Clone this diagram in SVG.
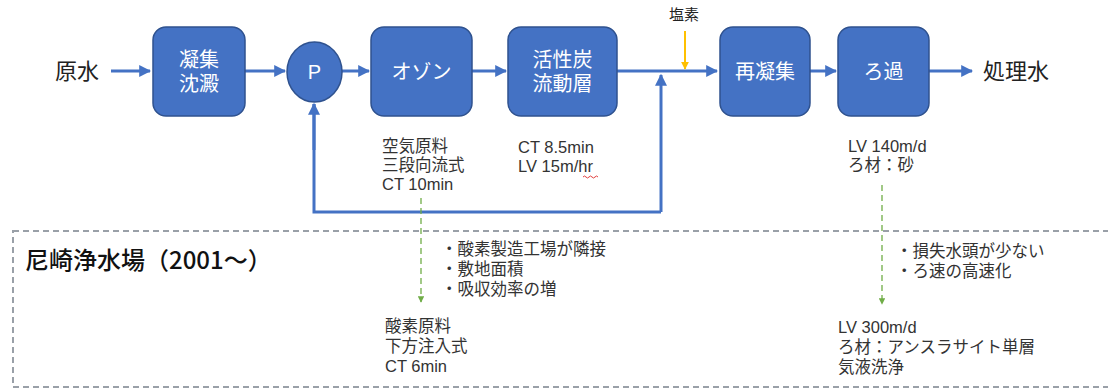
<svg xmlns="http://www.w3.org/2000/svg" width="1108" height="390" viewBox="0 0 1108 390">
<defs>
<marker id="ah" viewBox="0 0 10 10" refX="9" refY="5" markerWidth="4" markerHeight="4" orient="auto" markerUnits="strokeWidth"><path d="M0,0 L10,5 L0,10 z" fill="#4472C4"/></marker>
<marker id="ahy" viewBox="0 0 10 10" refX="9" refY="5" markerWidth="4" markerHeight="4" orient="auto" markerUnits="strokeWidth"><path d="M0,0 L10,5 L0,10 z" fill="#FFC000"/></marker>
<marker id="ahg" viewBox="0 0 10 10" refX="9" refY="5" markerWidth="5" markerHeight="5" orient="auto" markerUnits="strokeWidth"><path d="M0,0 L10,5 L0,10 z" fill="#70AD47"/></marker>
</defs>
<style>
.box{fill:#4472C4;stroke:#2F528F;stroke-width:1.5}
.bt{fill:#fff;font-family:"Liberation Sans","Noto Sans CJK JP",sans-serif;font-size:20px;text-anchor:middle}
.lbl{fill:#222;font-family:"Noto Sans CJK JP","Liberation Sans",sans-serif;font-size:22px}
.t{fill:#333;font-family:"Liberation Sans","Noto Sans CJK JP",sans-serif;font-size:16.5px}
.ln{fill:none;stroke:#4472C4;stroke-width:3}
.gd{fill:none;stroke:#70AD47;stroke-width:1.3;stroke-dasharray:6 4}
</style>
<rect x="13" y="231" width="1110" height="156" fill="none" stroke="#9AA0A8" stroke-width="2" stroke-dasharray="6 4"/>
<text x="25" y="269" style="fill:#111;font-family:'Noto Sans CJK JP','Liberation Sans',sans-serif;font-size:24px;font-weight:500">尼崎浄水場（2001～）</text>
<g id="connectors">
<line class="ln" x1="111" y1="71" x2="150" y2="71" marker-end="url(#ah)"/>
<line class="ln" x1="245" y1="71" x2="285" y2="71" marker-end="url(#ah)"/>
<line class="ln" x1="342" y1="71" x2="369" y2="71" marker-end="url(#ah)"/>
<line class="ln" x1="472" y1="71" x2="506" y2="71" marker-end="url(#ah)"/>
<line class="ln" x1="617" y1="71" x2="717" y2="71" marker-end="url(#ah)"/>
<line class="ln" x1="661" y1="212" x2="661" y2="75" marker-end="url(#ah)"/>
<polyline class="ln" points="661,212 314,212 314,104"/>
<line class="ln" x1="314" y1="150" x2="314" y2="104" marker-end="url(#ah)"/>
<line x1="685" y1="31" x2="685" y2="69" stroke="#FFC000" stroke-width="2" marker-end="url(#ahy)"/>
<line class="ln" x1="810" y1="71" x2="836" y2="71" marker-end="url(#ah)"/>
<line class="ln" x1="929" y1="71" x2="972" y2="71" marker-end="url(#ah)"/>
<line class="gd" x1="421" y1="198" x2="421" y2="302" marker-end="url(#ahg)"/>
<line class="gd" x1="882" y1="185" x2="882" y2="304" marker-end="url(#ahg)"/>
</g>
<g id="n-genshui"><text class="lbl" x="55" y="79">原水</text></g>
<g id="n-gyoshu"><rect class="box" x="153" y="27" width="92" height="89" rx="13"/><text class="bt" x="199" y="67">凝集</text><text class="bt" x="199" y="91">沈澱</text></g>
<g id="n-p"><ellipse class="box" cx="314.5" cy="72" rx="27.5" ry="30"/><text class="bt" x="314.5" y="79">P</text></g>
<g id="n-ozone"><rect class="box" x="371" y="27" width="101" height="89" rx="13"/><text class="bt" x="421.5" y="79">オゾン</text></g>
<g id="n-kasseitan"><rect class="box" x="508" y="27" width="109" height="89" rx="13"/><text class="bt" x="562.5" y="67">活性炭</text><text class="bt" x="562.5" y="91">流動層</text></g>
<g id="n-saigyoshu"><rect class="box" x="720" y="27" width="90" height="89" rx="13"/><text class="bt" x="765" y="79">再凝集</text></g>
<g id="n-roka"><rect class="box" x="838" y="27" width="91" height="89" rx="13"/><text class="bt" x="883.5" y="79">ろ過</text></g>
<g id="n-shorisui"><text class="lbl" x="983" y="79">処理水</text></g>
<g id="n-ensou"><text x="684" y="20" style="fill:#222;font-family:'Noto Sans CJK JP',sans-serif;font-size:15px;text-anchor:middle">塩素</text></g>
<g id="notes">
<text class="t" x="382" y="152">空気原料</text>
<text class="t" x="382" y="171">三段向流式</text>
<text class="t" x="382" y="190">CT 10min</text>
<text class="t" x="518" y="153">CT 8.5min</text>
<text class="t" x="518" y="172">LV 15m/hr</text>
<path d="M583,177 q1.5,-2 3,0 t3,0 t3,0 t3,0 t3,0" fill="none" stroke="#E04040" stroke-width="1"/>
<text class="t" x="848" y="152">LV 140m/d</text>
<text class="t" x="848" y="171">ろ材：砂</text>
<text class="t" x="441" y="255">・酸素製造工場が隣接</text>
<text class="t" x="441" y="275">・敷地面積</text>
<text class="t" x="441" y="295">・吸収効率の増</text>
<text class="t" x="385" y="332">酸素原料</text>
<text class="t" x="385" y="352">下方注入式</text>
<text class="t" x="385" y="372">CT 6min</text>
<text class="t" x="896" y="257">・損失水頭が少ない</text>
<text class="t" x="896" y="277">・ろ速の高速化</text>
<text class="t" x="838" y="333">LV 300m/d</text>
<text class="t" x="838" y="353">ろ材：アンスラサイト単層</text>
<text class="t" x="838" y="373">気液洗浄</text>
</g>
</svg>
